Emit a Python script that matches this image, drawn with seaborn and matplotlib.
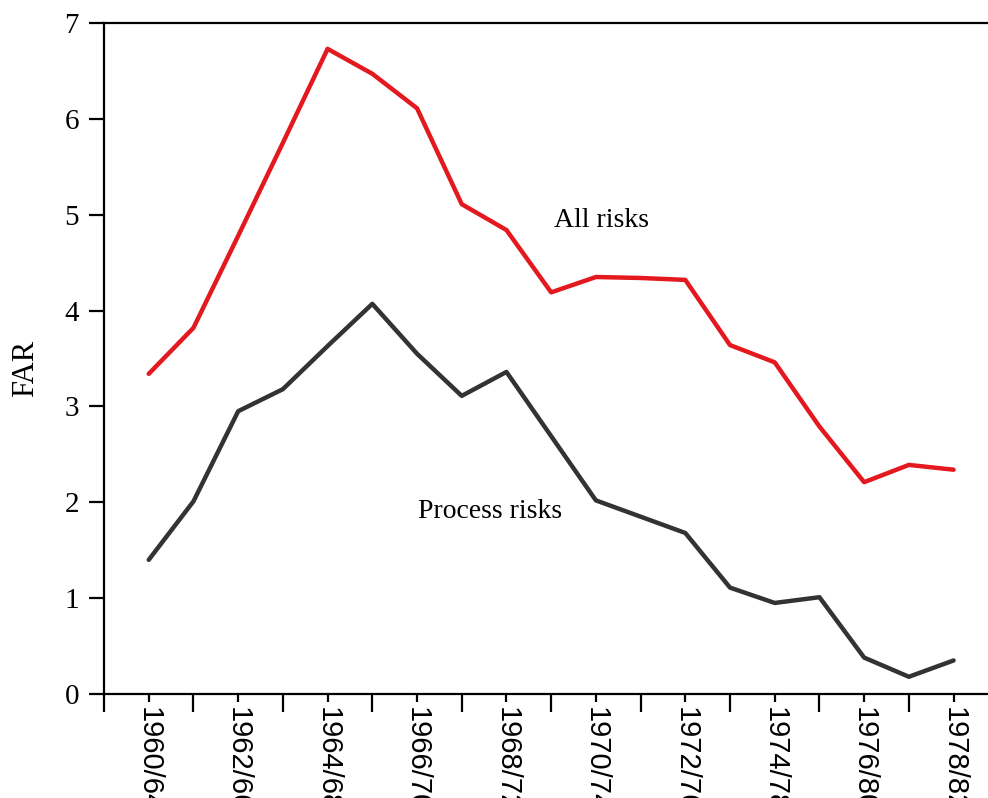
import pandas as pd
import matplotlib.pyplot as plt
import seaborn as sns

# Period labels (every period, only even ones get a label)
periods = ['1960/64', '1961/65', '1962/66', '1963/67', '1964/68', '1965/69',
           '1966/70', '1967/71', '1968/72', '1969/73', '1970/74', '1971/75',
           '1972/76', '1973/77', '1974/78', '1975/79', '1976/80', '1977/81',
           '1978/82']

# FAR values
all_risks = [3.34, 3.82, 4.78, 5.75, 6.73, 6.47, 6.11, 5.11, 4.84, 4.19,
             4.35, 4.34, 4.32, 3.64, 3.46, 2.79, 2.21, 2.39, 2.34]
process_risks = [1.40, 2.01, 2.95, 3.18, 3.63, 4.07, 3.55, 3.11, 3.36, 2.69,
                 2.02, 1.85, 1.68, 1.11, 0.95, 1.01, 0.38, 0.18, 0.35]

series_names = ['All risks', 'Process risks']
series_colors = ['#e3191f', '#333333']

# Build long-form table
df = pd.DataFrame({
    'idx': list(range(len(periods))) * 2,
    'FAR': all_risks + process_risks,
    'series': [series_names[0]] * len(periods) + [series_names[1]] * len(periods),
})

sns.set_style('ticks')
plt.rcParams['font.family'] = ['Liberation Serif', 'DejaVu Serif']
plt.rcParams['text.color'] = 'black'
plt.rcParams['axes.labelcolor'] = 'black'

fig = plt.figure(figsize=(9.88, 7.98), dpi=100)
ax = fig.add_axes([0.1053, 0.1303, 0.8947, 0.8409])

sns.lineplot(data=df, x='idx', y='FAR', hue='series', palette=series_colors,
             linewidth=3.2, legend=False, ax=ax)

# Inline labels instead of a legend
ax.text(10.12, 4.94, 'All risks', fontsize=20, ha='center', va='center', color='black')
ax.text(7.64, 1.90, 'Process risks', fontsize=20, ha='center', va='center', color='black')

ax.set_xlim(-1, 18.77)
ax.set_ylim(0, 7)
ax.set_yticks(range(0, 8))
ax.tick_params(axis='y', labelsize=21, length=11, width=1.6, pad=7,
               direction='out', colors='black')

# Labeled ticks short, in-between ticks long
major = list(range(0, len(periods), 2))
ax.set_xticks(major)
ax.set_xticklabels([periods[i] for i in major], rotation=270, fontsize=21,
                   family=['Liberation Sans', 'DejaVu Sans'])
ax.set_xticks([-1] + list(range(1, len(periods), 2)), minor=True)
ax.tick_params(axis='x', which='major', length=6, width=1.6, pad=3, colors='black')
ax.tick_params(axis='x', which='minor', length=13, width=1.6, colors='black')

ax.set_xlabel('')
ax.set_ylabel('FAR', fontsize=22)
ax.yaxis.set_label_coords(-0.072, 0.485)

for side in ['left', 'bottom', 'top']:
    ax.spines[side].set_linewidth(1.6)
    ax.spines[side].set_color('black')
ax.spines['right'].set_visible(False)

fig.savefig('out.png', dpi=100)
